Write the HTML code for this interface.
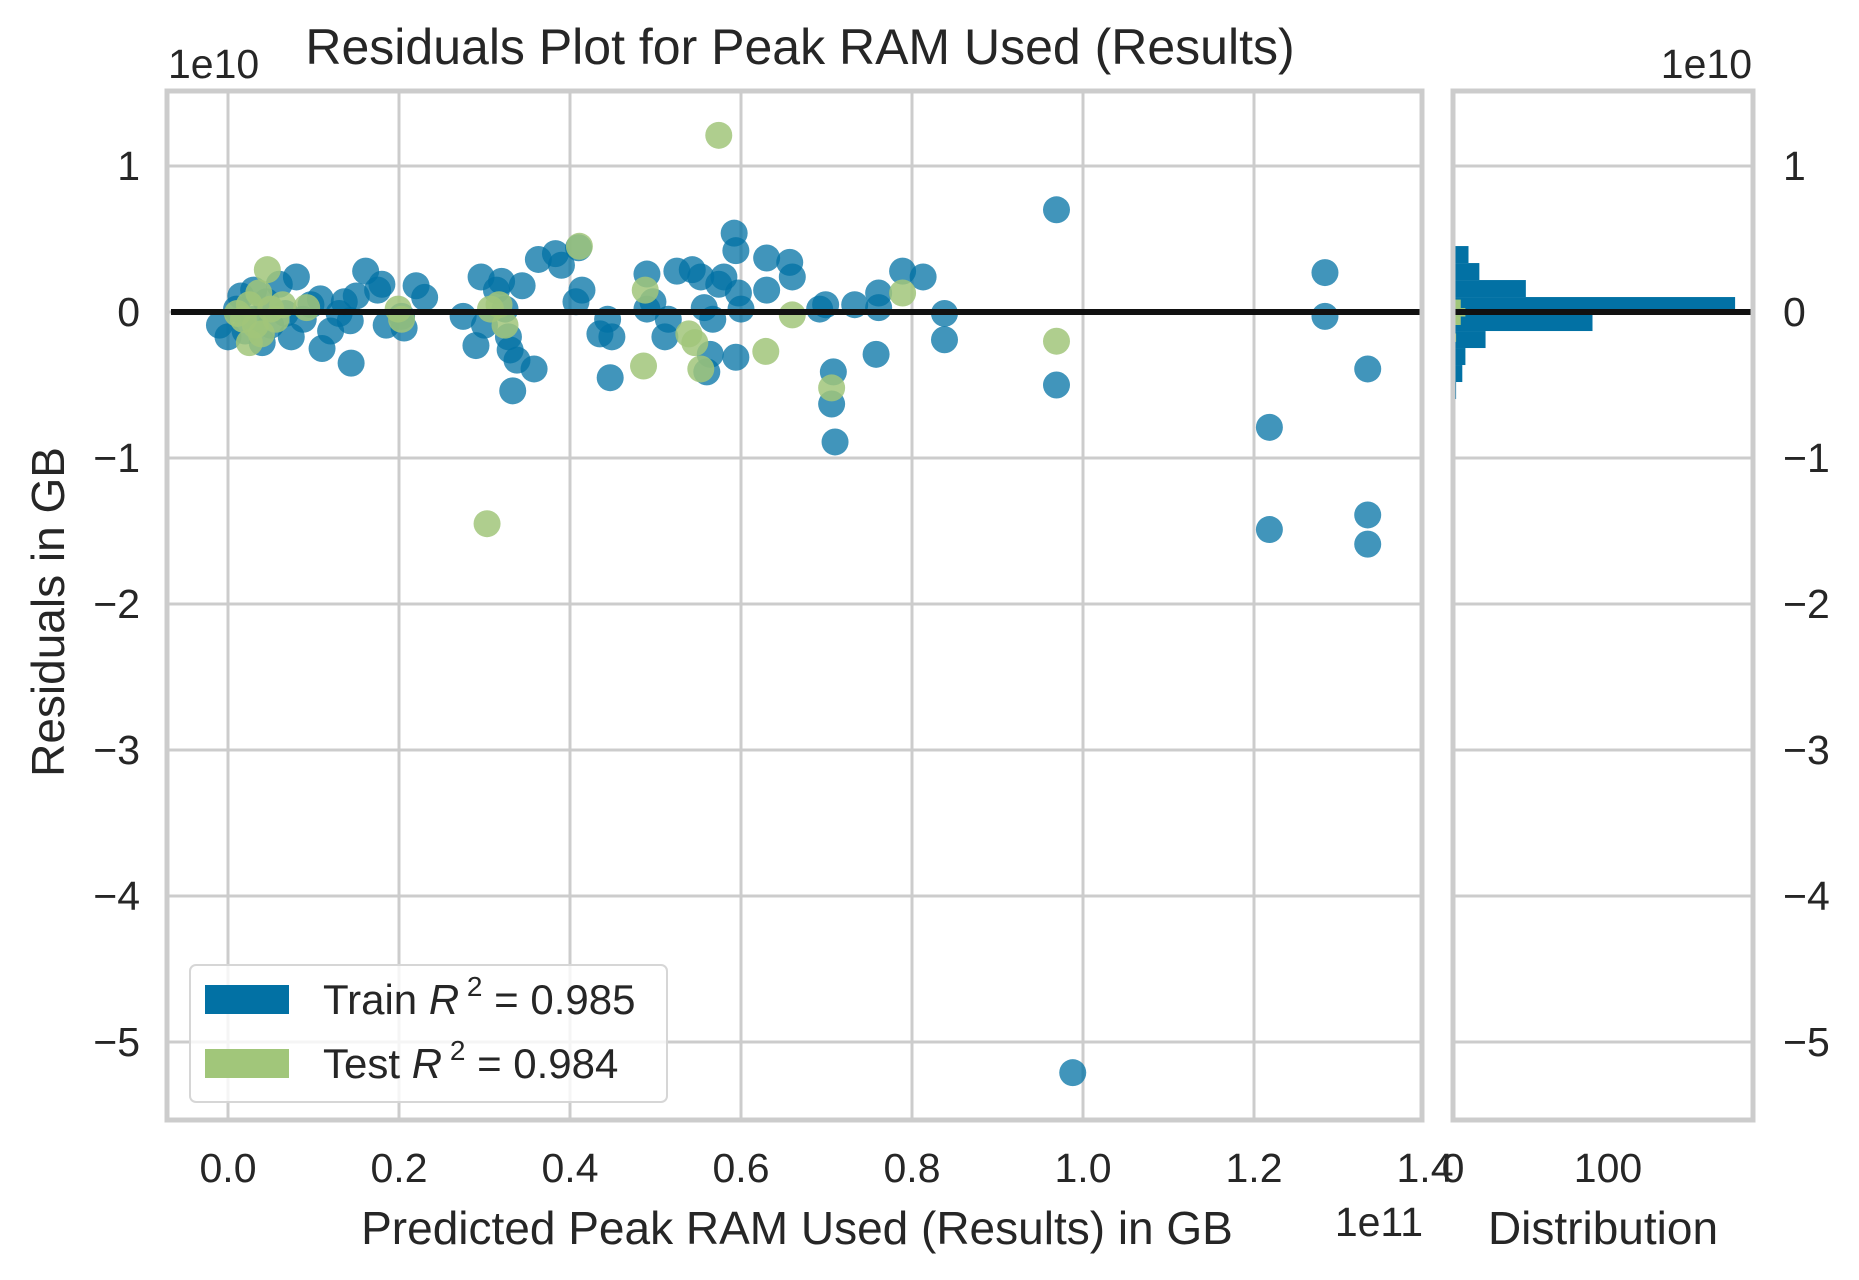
<!DOCTYPE html>
<html><head><meta charset="utf-8"><style>
html,body{margin:0;padding:0;background:#fff;}
svg{display:block;font-family:"Liberation Sans",sans-serif;}
</style></head><body>
<svg id="chart" width="1859" height="1280" viewBox="0 0 1859 1280" xmlns="http://www.w3.org/2000/svg">
<text x="800" y="64" font-size="50" fill="#262626" text-anchor="middle">Residuals Plot for Peak RAM Used (Results)</text>
<text x="168" y="78" font-size="41" fill="#262626">1e10</text>
<text x="1752" y="78" font-size="41" fill="#262626" text-anchor="end">1e10</text>
<text x="1423" y="1236" font-size="41" fill="#262626" text-anchor="end">1e11</text>
<text x="797" y="1244" font-size="46" fill="#262626" text-anchor="middle">Predicted Peak RAM Used (Results) in GB</text>
<text x="1603" y="1244" font-size="46" fill="#262626" text-anchor="middle">Distribution</text>
<text x="0" y="0" font-size="46" fill="#262626" text-anchor="middle" transform="translate(64,612) rotate(-90)">Residuals in GB</text>
<g id="main"></g>
<g id="hist"></g>
<g id="legend">
<rect x="190" y="965" width="477" height="137" rx="6" fill="#fff" fill-opacity="0.8" stroke="#d6d6d6" stroke-width="2"/>
<rect x="205" y="985" width="84" height="29" fill="#0271a4"/>
<text x="323" y="1014" font-size="42" fill="#262626">Train <tspan font-style="italic">R</tspan><tspan font-size="28" dy="-18"> 2</tspan><tspan dy="18"> = 0.985</tspan></text>
<rect x="205" y="1049" width="84" height="29" fill="#a1c67a"/>
<text x="323" y="1078" font-size="42" fill="#262626">Test <tspan font-style="italic">R</tspan><tspan font-size="28" dy="-18"> 2</tspan><tspan dy="18"> = 0.984</tspan></text>
</g>
</svg>
<script>
const xTicks = [0.0,0.2,0.4,0.6,0.8,1.0,1.2,1.4];
const xTickLabels = ["0.0","0.2","0.4","0.6","0.8","1.0","1.2","1.4"];
const yTicks = [1,0,-1,-2,-3,-4,-5];
const yTickLabels = ["1","0","\u22121","\u22122","\u22123","\u22124","\u22125"];
const histTicks = [0,100];
const histTickLabels = ["0","100"];
const trainX = [-0.01,0.00,0.01,0.015,0.02,0.03,0.03,0.04,0.045,0.05,0.06,0.067,0.074,0.08,0.088,0.097,0.108,0.11,0.12,0.13,0.136,0.144,0.15,0.143,0.161,0.175,0.18,0.185,0.203,0.206,0.22,0.23,0.275,0.29,0.296,0.30,0.314,0.32,0.324,0.328,0.33,0.333,0.338,0.344,0.358,0.363,0.383,0.39,0.41,0.414,0.407,0.435,0.444,0.447,0.449,0.49,0.49,0.497,0.511,0.515,0.525,0.543,0.553,0.557,0.56,0.564,0.567,0.574,0.58,0.592,0.594,0.594,0.597,0.60,0.63,0.63,0.657,0.66,0.692,0.699,0.708,0.706,0.71,0.733,0.761,0.761,0.758,0.789,0.813,0.838,0.838,0.969,0.969,0.988,1.218,1.218,1.283,1.283,1.333,1.333,1.333];
const trainY = [-0.09,-0.17,0.02,0.11,-0.13,0.15,-0.05,-0.21,0.07,-0.09,0.19,-0.01,-0.17,0.24,-0.05,0.05,0.09,-0.25,-0.13,-0.01,0.07,-0.35,0.11,-0.06,0.28,0.15,0.19,-0.09,-0.03,-0.11,0.18,0.10,-0.03,-0.23,0.24,-0.09,0.15,0.21,0.02,-0.17,-0.26,-0.54,-0.33,0.18,-0.39,0.36,0.40,0.32,0.44,0.15,0.07,-0.15,-0.05,-0.45,-0.17,0.26,0.02,0.07,-0.17,-0.05,0.28,0.29,0.24,0.03,-0.41,-0.29,-0.05,0.19,0.24,0.54,0.42,-0.31,0.13,0.02,0.37,0.15,0.34,0.24,0.02,0.05,-0.41,-0.63,-0.89,0.05,0.13,0.03,-0.29,0.28,0.24,-0.01,-0.19,0.70,-0.50,-5.21,-0.79,-1.49,0.27,-0.03,-0.39,-1.39,-1.59];
const testX = [0.011,0.018,0.025,0.032,0.039,0.046,0.05,0.056,0.064,0.092,0.199,0.203,0.303,0.307,0.317,0.324,0.411,0.488,0.486,0.539,0.546,0.553,0.574,0.629,0.66,0.706,0.789,0.969,0.036,0.025];
const testY = [-0.01,-0.05,0.05,-0.09,-0.15,0.29,0.02,-0.05,0.05,0.03,0.02,-0.05,-1.45,0.02,0.05,-0.09,0.45,0.15,-0.37,-0.15,-0.21,-0.39,1.21,-0.27,-0.02,-0.52,0.13,-0.20,0.13,-0.21];
const trainBinTop = 0.568, trainBinWidth = 0.1164;
const trainCounts = [1,10,17,47,182,90,21,8,6,2];
const testBinTop = 0.085, testBinWidth = 0.058;
const testCounts = [5,8,5,0,2];

const NS="http://www.w3.org/2000/svg";
const L=167,R=1422,T=91,B=1120,HL=1453,HR=1753;
const xS=v=>228+v*855;
const yS=v=>312-v*146;
const hS=c=>HL+c*1.55;
function mk(parent,tag,attrs){const e=document.createElementNS(NS,tag);for(const k in attrs)e.setAttribute(k,attrs[k]);parent.appendChild(e);return e;}
const main=document.getElementById('main'), hist=document.getElementById('hist');
yTicks.forEach((t,i)=>{
  let g=mk(main,'line',{x1:L,x2:R,y1:yS(t),y2:yS(t),stroke:'#cccccc','stroke-width':3});
  
  
  let g2=mk(hist,'line',{x1:HL,x2:HR,y1:yS(t),y2:yS(t),stroke:'#cccccc','stroke-width':3});
  
  
  let tx=mk(main,'text',{x:140,y:yS(t)+14,'font-size':41,fill:'#262626','text-anchor':'end'});
  tx.textContent=yTickLabels[i];
  
  
  let tx2=mk(hist,'text',{x:1783,y:yS(t)+14,'font-size':41,fill:'#262626'});
  tx2.textContent=yTickLabels[i];
  
  
});
xTicks.forEach((t,i)=>{
  if(xS(t)<R-3){
    let g=mk(main,'line',{x1:xS(t),x2:xS(t),y1:T,y2:B,stroke:'#cccccc','stroke-width':3});
    
    
  }
  let tx=mk(main,'text',{x:xS(t),y:1182,'font-size':41,fill:'#262626','text-anchor':'middle'});
  tx.textContent=xTickLabels[i];
  
  
});
histTicks.forEach((t,i)=>{
  let tx=mk(hist,'text',{x:hS(t),y:1182,'font-size':41,fill:'#262626','text-anchor':'middle'});
  tx.textContent=histTickLabels[i];
  
  
});
trainX.forEach((x,i)=>{
  let c=mk(main,'circle',{cx:xS(x),cy:yS(trainY[i]),r:13.5,fill:'#0271a4','fill-opacity':0.75});
  
  
});
testX.forEach((x,i)=>{
  let c=mk(main,'circle',{cx:xS(x),cy:yS(testY[i]),r:13.5,fill:'#a1c67a','fill-opacity':0.85});
  
  
});
trainCounts.forEach((c,i)=>{
  if(!c)return;
  const top=trainBinTop-i*trainBinWidth;
  let r=mk(hist,'rect',{x:HL,y:yS(top),width:hS(c)-HL,height:yS(top-trainBinWidth)-yS(top),fill:'#0271a4'});
  
  
});
testCounts.forEach((c,i)=>{
  if(!c)return;
  const top=testBinTop-i*testBinWidth;
  let r=mk(hist,'rect',{x:HL,y:yS(top),width:hS(c)-HL,height:yS(top-testBinWidth)-yS(top),fill:'#a1c67a'});
  
  
});
let z=mk(main,'line',{x1:L+4,x2:R-2,y1:yS(0),y2:yS(0),stroke:'#111','stroke-width':6});


let z2=mk(hist,'line',{x1:HL,x2:HR,y1:yS(0),y2:yS(0),stroke:'#111','stroke-width':6});


let f=mk(main,'rect',{x:L,y:T,width:R-L,height:B-T,fill:'none',stroke:'#cccccc','stroke-width':5});


let f2=mk(hist,'rect',{x:HL,y:T,width:HR-HL,height:B-T,fill:'none',stroke:'#cccccc','stroke-width':5});


</script>
</body></html>
